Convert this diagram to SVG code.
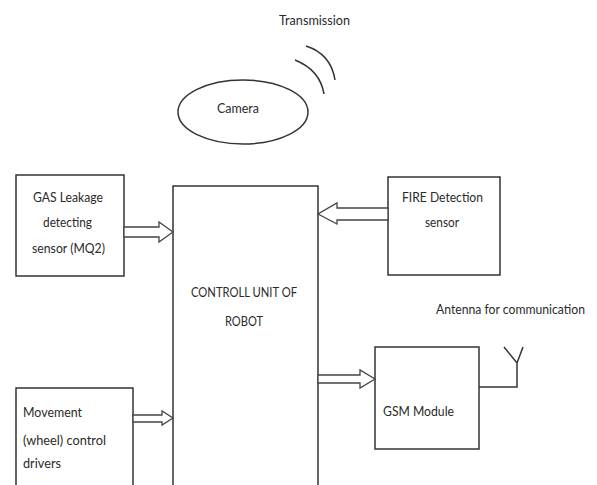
<svg xmlns="http://www.w3.org/2000/svg" width="597" height="485" viewBox="0 0 597 485">
<style>
.box{fill:#fff;stroke:#333;stroke-width:1.5}
.ln{fill:none;stroke:#333;stroke-width:1.5}
.arr{fill:#fff;stroke:#444;stroke-width:1.3;stroke-linejoin:miter}
text{font-family:Lato,"Liberation Sans",Arial,sans-serif;font-size:14px;fill:#2a2a2a}
text.sm{font-size:13px}
</style>
<rect width="597" height="485" fill="#fff"/>
<g id="transmission">
<text x="279" y="25" textLength="71" lengthAdjust="spacingAndGlyphs">Transmission</text>
<path class="ln" d="M306,46 Q331,54 335,80"/>
<path class="ln" d="M295,60 Q320,70 324,94"/>
</g>
<g id="camera">
<ellipse class="box" cx="243" cy="112" rx="65" ry="32"/>
<text x="217" y="113" textLength="42" lengthAdjust="spacingAndGlyphs">Camera</text>
</g>
<g id="gas">
<rect class="box" x="16" y="175" width="108" height="101"/>
<text x="33" y="202" textLength="70" lengthAdjust="spacingAndGlyphs">GAS Leakage</text>
<text x="43" y="227" textLength="49" lengthAdjust="spacingAndGlyphs">detecting</text>
<text x="32" y="253" textLength="73" lengthAdjust="spacingAndGlyphs">sensor (MQ2)</text>
</g>
<g id="control">
<rect class="box" x="173" y="186" width="145" height="310"/>
<text x="191" y="297" textLength="106" lengthAdjust="spacingAndGlyphs">CONTROLL UNIT OF</text>
<text x="225" y="326" textLength="38" lengthAdjust="spacingAndGlyphs">ROBOT</text>
</g>
<g id="fire">
<rect class="box" x="388" y="177" width="112" height="98"/>
<text x="402" y="202" textLength="81" lengthAdjust="spacingAndGlyphs">FIRE Detection</text>
<text x="425" y="227" textLength="34" lengthAdjust="spacingAndGlyphs">sensor</text>
</g>
<g id="movement">
<rect class="box" x="16" y="388" width="117" height="110"/>
<text x="23" y="417" textLength="59" lengthAdjust="spacingAndGlyphs">Movement</text>
<text x="23" y="445" textLength="83" lengthAdjust="spacingAndGlyphs">(wheel) control</text>
<text x="23" y="468" textLength="38" lengthAdjust="spacingAndGlyphs">drivers</text>
</g>
<g id="gsm">
<rect class="box" x="375" y="347" width="104" height="102"/>
<text x="383" y="416" textLength="71" lengthAdjust="spacingAndGlyphs">GSM Module</text>
</g>
<g id="antenna">
<text class="sm" x="436" y="314" textLength="149" lengthAdjust="spacingAndGlyphs">Antenna for communication</text>
<path class="ln" d="M479,387 H517 V363 M504,347 L517,363 L523,347"/>
</g>
<g id="connectors">
<polygon class="arr" points="124,227 159,227 159,222 173,232 159,242 159,237 124,237"/>
<polygon class="arr" points="388,208 337,208 337,203 318,214 337,224 337,220 388,220"/>
<polygon class="arr" points="133,415 162,415 162,411 173,418 162,425 162,422 133,422"/>
<polygon class="arr" points="318,375 360,375 360,370 375,379 360,388 360,383 318,383"/>
</g>
</svg>
